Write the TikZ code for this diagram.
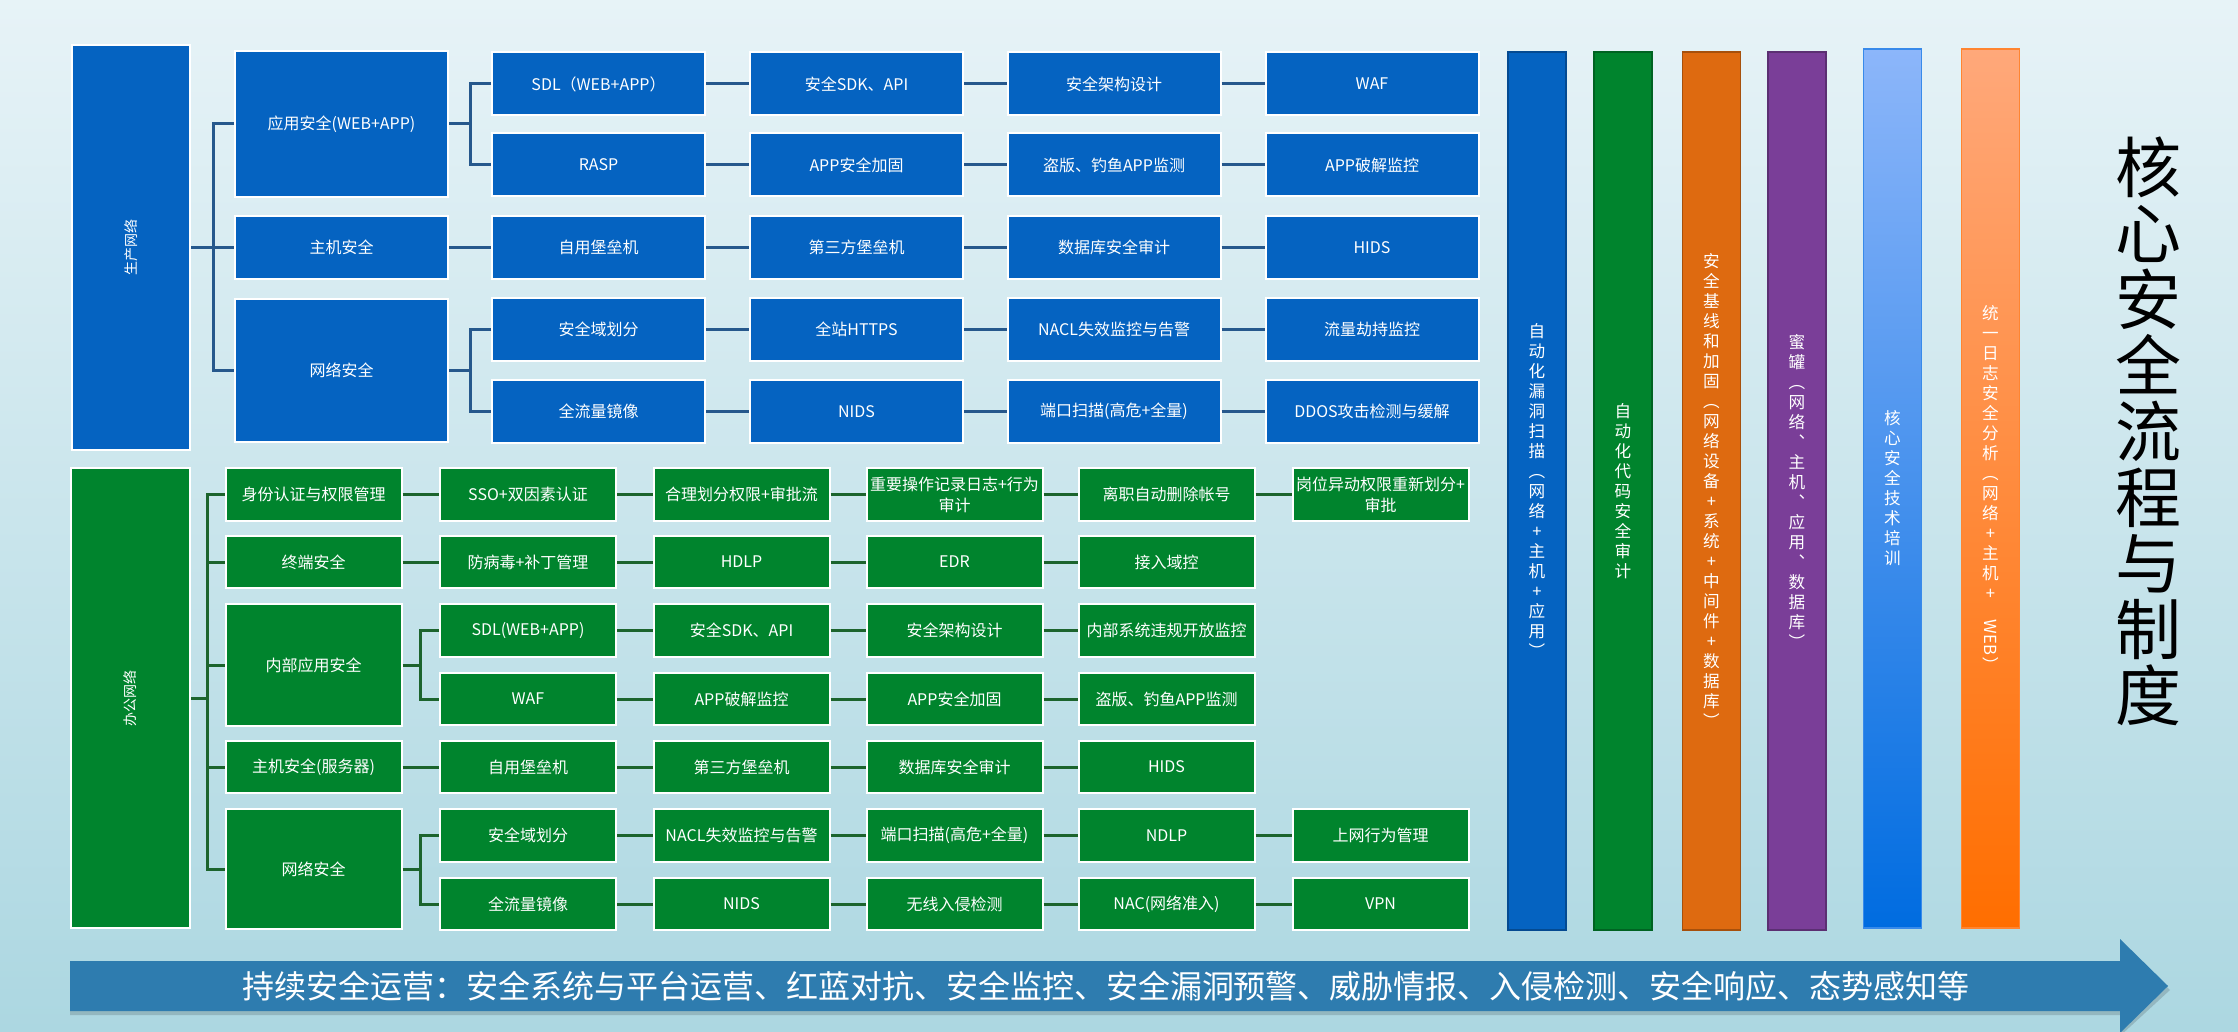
\documentclass[tikz,border=0pt]{standalone}
\usepackage{fontspec}
\setmainfont{Noto Sans CJK SC}
\usepackage{tikz}
\usetikzlibrary{positioning,calc}
\definecolor{prodBlue}{RGB}{5,99,193}
\definecolor{offGreen}{RGB}{0,132,45}
\definecolor{prodLine}{RGB}{38,88,140}
\definecolor{offLine}{RGB}{28,100,45}
\definecolor{barOrange}{RGB}{222,106,16}
\definecolor{barPurple}{RGB}{122,62,152}
\definecolor{trainTop}{RGB}{140,182,250}
\definecolor{trainBot}{RGB}{0,108,224}
\definecolor{logTop}{RGB}{255,168,122}
\definecolor{logBot}{RGB}{255,110,0}
\definecolor{arrowBlue}{RGB}{46,124,175}
\definecolor{bgTop}{RGB}{231,243,247}
\definecolor{bgBot}{RGB}{172,215,225}
\newcommand\cellfont{\fontsize{8}{10.5}\selectfont}
\newcommand\barfont{\fontsize{8.3}{10}\selectfont}

\tikzset{
  pbox/.style={draw=white, line width=1pt, fill=prodBlue, text=white, inner sep=1pt,
               align=center, font=\cellfont, minimum width=106.5pt, minimum height=31.5pt},
  obox/.style={pbox, fill=offGreen, minimum width=88pt, minimum height=26.25pt},
  pline/.style={draw=prodLine, line width=1.5pt},
  oline/.style={draw=offLine, line width=1.5pt},
  bar/.style={line width=0.6pt, text=white, align=center, font=\barfont, inner sep=0pt,
              minimum width=29pt},
}

\begin{document}
\begin{tikzpicture}[x=0.5pt, y=-0.5pt]

\useasboundingbox (0,0) rectangle (2238,1032);
\fill[top color=bgTop, bottom color=bgBot] (0,0) rectangle (2238,1032);

% production network
\node[pbox, minimum width=59pt, minimum height=202.5pt] (prod) at (131,247.5) {};
\node[text=white, rotate=90, font=\fontsize{7}{8}\selectfont] (prodtxt) at (prod) {生产网络};

\node[pbox, minimum height=73pt] (app) at (341.5,124) {应用安全(WEB+APP)};
\node[pbox] (phost) at (341.5,247.5) {主机安全};
\node[pbox, minimum height=71.5pt] (pnet) at (341.5,370.5) {网络安全};

\node[pbox] (p11) at (598.5,84) {SDL（WEB+APP）};
\node[pbox] (p12) at (856.5,84) {安全SDK、API};
\node[pbox] (p13) at (1114,84) {安全架构设计};
\node[pbox] (p14) at (1372,84) {WAF};

\node[pbox] (p21) at (598.5,165) {RASP};
\node[pbox] (p22) at (856.5,165) {APP安全加固};
\node[pbox] (p23) at (1114,165) {盗版、钓鱼APP监测};
\node[pbox] (p24) at (1372,165) {APP破解监控};

\node[pbox] (p31) at (598.5,247.5) {自用堡垒机};
\node[pbox] (p32) at (856.5,247.5) {第三方堡垒机};
\node[pbox] (p33) at (1114,247.5) {数据库安全审计};
\node[pbox] (p34) at (1372,247.5) {HIDS};

\node[pbox] (p41) at (598.5,329.5) {安全域划分};
\node[pbox] (p42) at (856.5,329.5) {全站HTTPS};
\node[pbox] (p43) at (1114,329.5) {NACL失效监控与告警};
\node[pbox] (p44) at (1372,329.5) {流量劫持监控};

\node[pbox] (p51) at (598.5,411.5) {全流量镜像};
\node[pbox] (p52) at (856.5,411.5) {NIDS};
\node[pbox] (p53) at (1114,411.5) {端口扫描(高危+全量)};
\node[pbox] (p54) at (1372,411.5) {DDOS攻击检测与缓解};

\coordinate (pbus) at (213,247.5);
\coordinate (abus) at (470,124);
\coordinate (nbus) at (470,370.5);

\draw[pline] (prod) -- (phost);
\draw[pline] (app.west) -| (pbus) |- (pnet.west);
\draw[pline] (app) -- (abus);
\draw[pline] (p11.west) -| (abus) |- (p21.west);
\draw[pline] (pnet) -- (nbus);
\draw[pline] (p41.west) -| (nbus) |- (p51.west);
\draw[pline] (phost) -- (p31);

\draw[pline] (p11) -- (p12);  \draw[pline] (p12) -- (p13);  \draw[pline] (p13) -- (p14);
\draw[pline] (p21) -- (p22);  \draw[pline] (p22) -- (p23);  \draw[pline] (p23) -- (p24);
\draw[pline] (p31) -- (p32);  \draw[pline] (p32) -- (p33);  \draw[pline] (p33) -- (p34);
\draw[pline] (p41) -- (p42);  \draw[pline] (p42) -- (p43);  \draw[pline] (p43) -- (p44);
\draw[pline] (p51) -- (p52);  \draw[pline] (p52) -- (p53);  \draw[pline] (p53) -- (p54);

% office network
\node[obox, minimum width=59.5pt, minimum height=230pt] (office) at (130.5,698) {};
\node[text=white, rotate=90, font=\fontsize{7}{8}\selectfont] (officetxt) at (office) {办公网络};

\node[obox] (ident) at (313.5,494.5) {身份认证与权限管理};
\node[obox] (term) at (313.5,562) {终端安全};
\node[obox, minimum height=61pt] (inapp) at (313.5,665) {内部应用安全};
\node[obox] (ohost) at (313.5,767) {主机安全(服务器)};
\node[obox, minimum height=60pt] (onet) at (313.5,869) {网络安全};

\node[obox] (o11) at (528,494.5) {SSO+双因素认证};
\node[obox] (o12) at (741.5,494.5) {合理划分权限+审批流};
\node[obox] (o13) at (954.5,494.5) {重要操作记录日志+行为\\审计};
\node[obox] (o14) at (1166.5,494.5) {离职自动删除帐号};
\node[obox] (o15) at (1380.5,494.5) {岗位异动权限重新划分+\\审批};

\node[obox] (o21) at (528,562) {防病毒+补丁管理};
\node[obox] (o22) at (741.5,562) {HDLP};
\node[obox] (o23) at (954.5,562) {EDR};
\node[obox] (o24) at (1166.5,562) {接入域控};

\node[obox] (o31) at (528,630.5) {SDL(WEB+APP)};
\node[obox] (o32) at (741.5,630.5) {安全SDK、API};
\node[obox] (o33) at (954.5,630.5) {安全架构设计};
\node[obox] (o34) at (1166.5,630.5) {内部系统违规开放监控};

\node[obox] (o41) at (528,699) {WAF};
\node[obox] (o42) at (741.5,699) {APP破解监控};
\node[obox] (o43) at (954.5,699) {APP安全加固};
\node[obox] (o44) at (1166.5,699) {盗版、钓鱼APP监测};

\node[obox] (o51) at (528,767) {自用堡垒机};
\node[obox] (o52) at (741.5,767) {第三方堡垒机};
\node[obox] (o53) at (954.5,767) {数据库安全审计};
\node[obox] (o54) at (1166.5,767) {HIDS};

\node[obox] (o61) at (528,835.5) {安全域划分};
\node[obox] (o62) at (741.5,835.5) {NACL失效监控与告警};
\node[obox] (o63) at (954.5,835.5) {端口扫描(高危+全量)};
\node[obox] (o64) at (1166.5,835.5) {NDLP};
\node[obox] (o65) at (1380.5,835.5) {上网行为管理};

\node[obox] (o71) at (528,904) {全流量镜像};
\node[obox] (o72) at (741.5,904) {NIDS};
\node[obox] (o73) at (954.5,904) {无线入侵检测};
\node[obox] (o74) at (1166.5,904) {NAC(网络准入)};
\node[obox] (o75) at (1380.5,904) {VPN};

\coordinate (obus) at (207,698);
\coordinate (ibus) at (420,665);
\coordinate (nbus2) at (420,869);

\draw[oline] (office) -- (obus);
\draw[oline] (ident.west) -| (obus) |- (onet.west);
\draw[oline] (term.west) -- (obus |- term.west);
\draw[oline] (inapp.west) -- (obus |- inapp.west);
\draw[oline] (ohost.west) -- (obus |- ohost.west);
\draw[oline] (inapp) -- (ibus);
\draw[oline] (o31.west) -| (ibus) |- (o41.west);
\draw[oline] (onet) -- (nbus2);
\draw[oline] (o61.west) -| (nbus2) |- (o71.west);

\draw[oline] (ident) -- (o11);  \draw[oline] (o11) -- (o12);  \draw[oline] (o12) -- (o13);
\draw[oline] (o13) -- (o14);  \draw[oline] (o14) -- (o15);
\draw[oline] (term) -- (o21);  \draw[oline] (o21) -- (o22);  \draw[oline] (o22) -- (o23);
\draw[oline] (o23) -- (o24);
\draw[oline] (o31) -- (o32);  \draw[oline] (o32) -- (o33);  \draw[oline] (o33) -- (o34);
\draw[oline] (o41) -- (o42);  \draw[oline] (o42) -- (o43);  \draw[oline] (o43) -- (o44);
\draw[oline] (ohost) -- (o51);  \draw[oline] (o51) -- (o52);  \draw[oline] (o52) -- (o53);
\draw[oline] (o53) -- (o54);
\draw[oline] (o61) -- (o62);  \draw[oline] (o62) -- (o63);  \draw[oline] (o63) -- (o64);
\draw[oline] (o64) -- (o65);
\draw[oline] (o71) -- (o72);  \draw[oline] (o72) -- (o73);  \draw[oline] (o73) -- (o74);
\draw[oline] (o74) -- (o75);

% vertical bars
\node[bar, fill=prodBlue, draw=prodBlue!75!black, minimum height=439pt] (scan) at (1537,491)
  {自\\动\\化\\漏\\洞\\扫\\描\\︵\\网\\络\\+\\主\\机\\+\\应\\用\\︶};
\node[bar, fill=offGreen, draw=offGreen!75!black, minimum height=439pt] (code) at (1623,491)
  {自\\动\\化\\代\\码\\安\\全\\审\\计};
\node[bar, fill=barOrange, draw=barOrange!75!black, minimum height=439pt] (base) at (1711.5,491)
  {安\\全\\基\\线\\和\\加\\固\\︵\\网\\络\\设\\备\\+\\系\\统\\+\\中\\间\\件\\+\\数\\据\\库\\︶};
\node[bar, fill=barPurple, draw=barPurple!75!black, minimum height=439pt] (honey) at (1797,491)
  {蜜\\罐\\︵\\网\\络\\︑\\主\\机\\︑\\应\\用\\︑\\数\\据\\库\\︶};
\node[bar, top color=trainTop, bottom color=trainBot, draw=trainBot!60!trainTop, minimum height=439.5pt] (train) at (1892.5,488.5)
  {核\\心\\安\\全\\技\\术\\培\\训};
\node[bar, top color=logTop, bottom color=logBot, draw=logBot!60!logTop, minimum height=439.5pt] (logs) at (1990.5,488.5)
  {统\\一\\日\\志\\安\\全\\分\\析\\︵\\网\\络\\+\\主\\机\\+\\\rotatebox{-90}{WEB}\\︶};

\node[align=center, font=\fontsize{33}{33}\selectfont] (title) at (2148,431)
  {核\\心\\安\\全\\流\\程\\与\\制\\度};

% operations arrow
\fill[black, opacity=0.15] (70,965) -- (2120,965) -- (2120,944) -- (2170,990) -- (2120,1036) -- (2120,1015) -- (70,1015) -- cycle;
\fill[arrowBlue] (70,961) -- (2120,961) -- (2120,939) -- (2168,986) -- (2120,1033) -- (2120,1011) -- (70,1011) -- cycle;
\node[text=white, font=\fontsize{16}{18}\selectfont] (ops) at (1106,986)
  {持续安全运营：安全系统与平台运营、红蓝对抗、安全监控、安全漏洞预警、威胁情报、入侵检测、安全响应、态势感知等};

\end{tikzpicture}
\end{document}
